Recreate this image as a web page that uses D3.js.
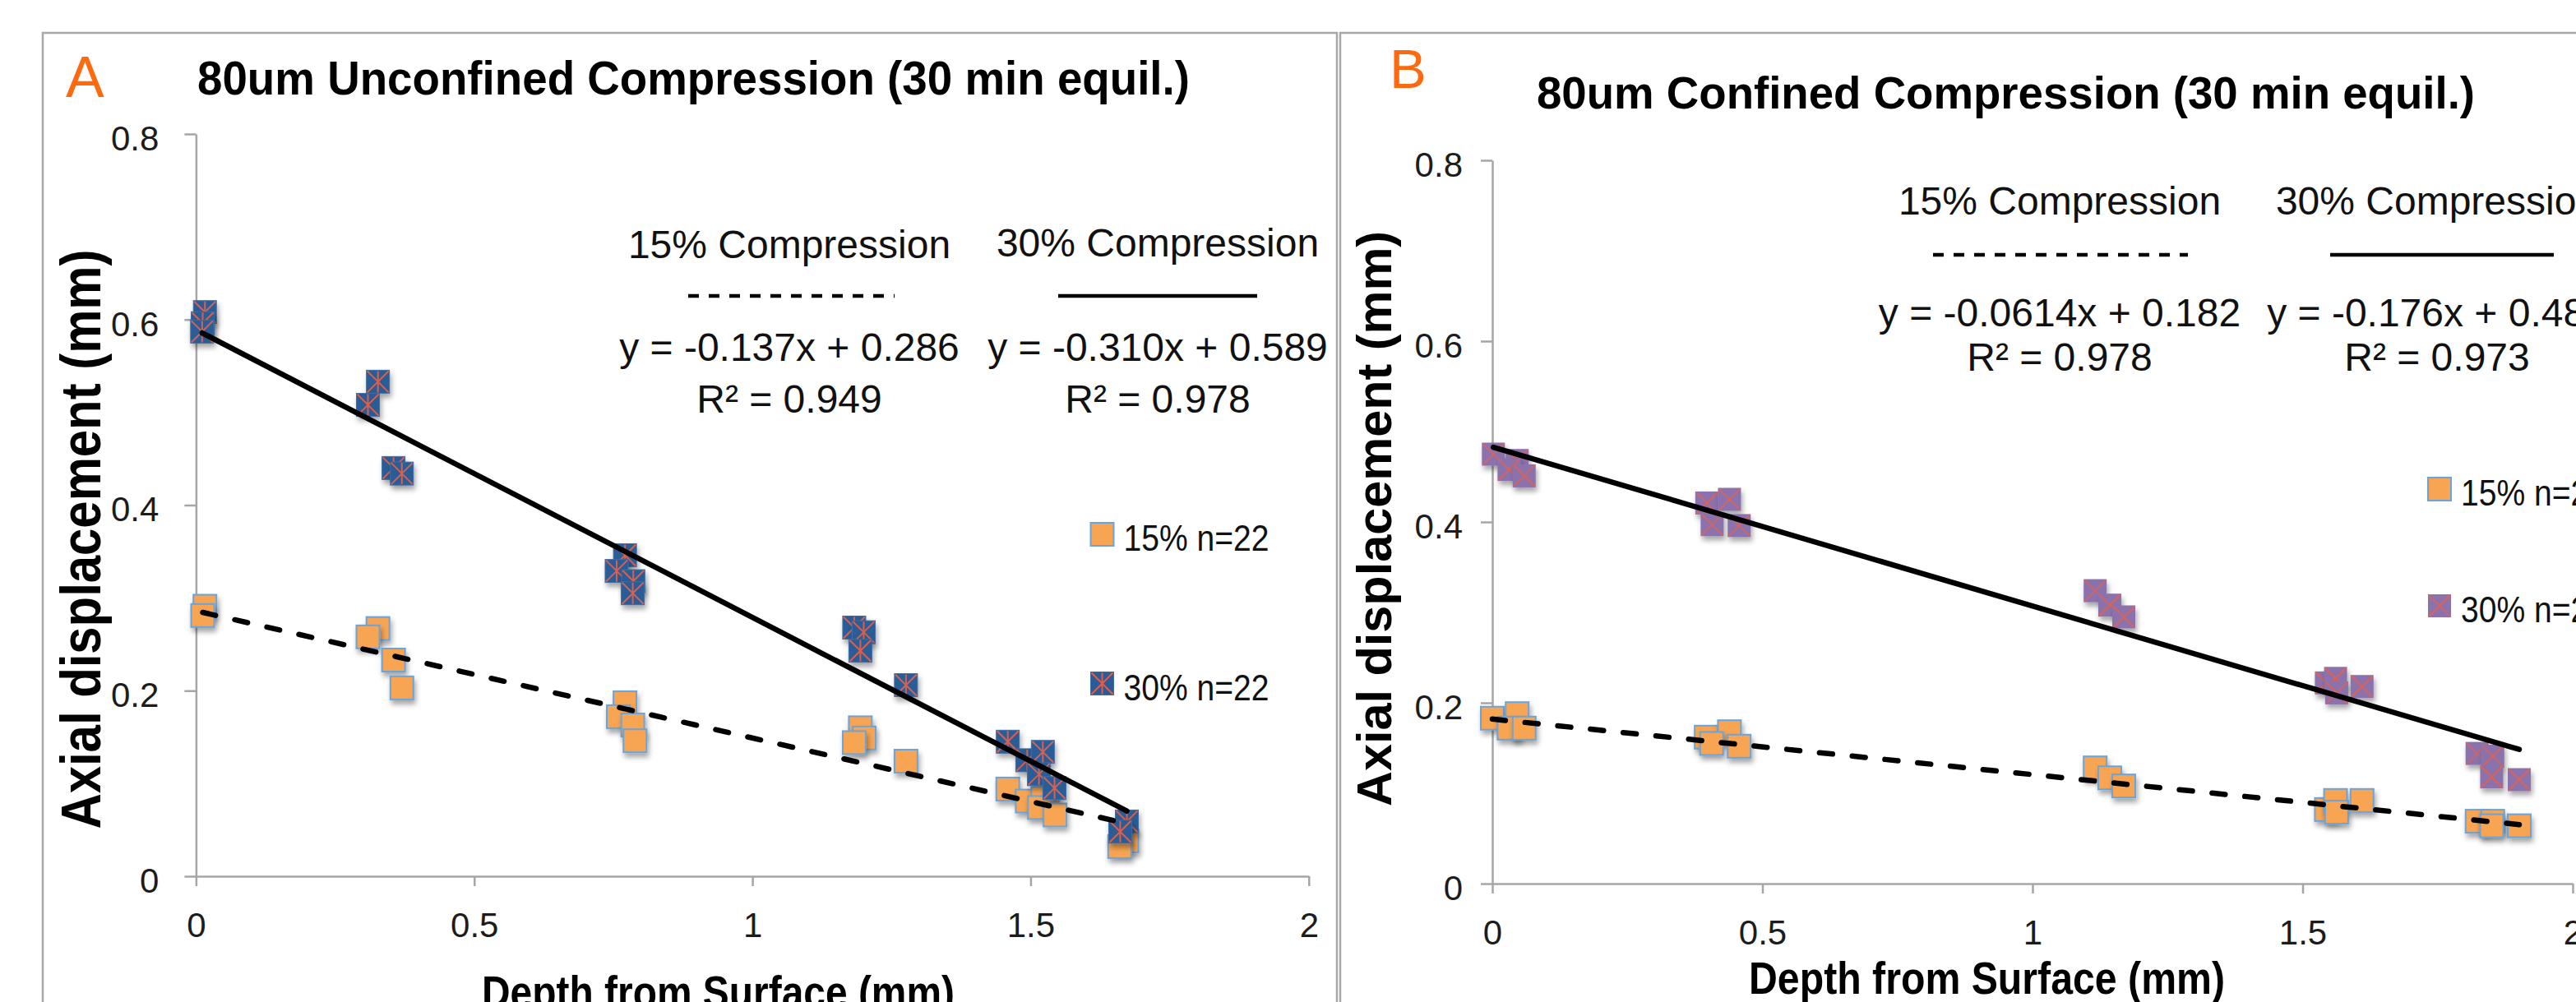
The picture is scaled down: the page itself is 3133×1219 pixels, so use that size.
<!DOCTYPE html>
<html>
<head>
<meta charset="utf-8">
<script src="https://cdn.jsdelivr.net/npm/d3@7"></script>
<style>
body{margin:0;background:#fff;overflow:hidden}
text{font-family:"Liberation Sans",Arial,Helvetica,sans-serif}
</style>
</head>
<body>
<svg id="chart"></svg>
<script>
// axis ticks shared by both panels
const xTicks = [0, 0.5, 1, 1.5, 2]
const yTicks = [0, 0.2, 0.4, 0.6, 0.8]

// panel A : unconfined, [depth mm, axial displacement mm]
const unconf15 = [
    [0.016,0.291],[0.012,0.281],[0.327,0.267],[0.309,0.258],[0.355,0.233],[0.370,0.203],
    [0.771,0.187],[0.759,0.172],[0.785,0.163],[0.789,0.146],
    [1.194,0.160],[1.201,0.149],[1.183,0.144],[1.276,0.124],
    [1.459,0.094],[1.494,0.081],[1.530,0.090],[1.522,0.084],[1.516,0.074],[1.544,0.066],
    [1.673,0.038],[1.660,0.032]
]
const unconf30 = [
    [0.016,0.608],[0.012,0.596],[0.011,0.587],[0.327,0.533],[0.309,0.508],[0.355,0.440],[0.370,0.434],
    [0.771,0.346],[0.756,0.329],[0.786,0.318],[0.785,0.305],
    [1.183,0.268],[1.200,0.263],[1.194,0.243],[1.276,0.206],
    [1.459,0.145],[1.494,0.125],[1.522,0.134],[1.515,0.110],[1.543,0.095],
    [1.673,0.059],[1.661,0.048]
]

// panel B : confined
const conf15 = [
    [0.000,0.183],[0.046,0.188],[0.031,0.172],[0.059,0.172],
    [0.396,0.162],[0.439,0.168],[0.406,0.155],[0.457,0.152],
    [1.116,0.128],[1.143,0.117],[1.169,0.108],
    [1.544,0.082],[1.561,0.092],[1.563,0.079],[1.610,0.092],
    [1.823,0.069],[1.852,0.069],[1.850,0.064],[1.901,0.064]
]
const conf30 = [
    [0.002,0.475],[0.046,0.468],[0.031,0.458],[0.059,0.451],
    [0.397,0.421],[0.439,0.425],[0.407,0.397],[0.457,0.396],
    [1.116,0.324],[1.143,0.308],[1.169,0.295],
    [1.544,0.222],[1.561,0.227],[1.563,0.211],[1.610,0.218],
    [1.823,0.144],[1.852,0.141],[1.850,0.118],[1.901,0.115]
]

// linear fits [slope, intercept] and their labels
const fitA = [[-0.137, 0.286], [-0.310, 0.589]]
const fitB = [[-0.0614, 0.182], [-0.176, 0.483]]
const eqA = ['y = -0.137x + 0.286', 'y = -0.310x + 0.589']
const eqB = ['y = -0.0614x + 0.182', 'y = -0.176x + 0.483']
const r2A = ['R² = 0.949', 'R² = 0.978']
const r2B = ['R² = 0.978', 'R² = 0.973']
const seriesNames = ['15% Compression', '30% Compression']
const legendA = ['15% n=22', '30% n=22']
const legendB = ['15% n=20', '30% n=20']

const W = 3133, H = 1219
const font = '"Liberation Sans",Arial,Helvetica,sans-serif'

let svg = d3.select('#chart').attr('width', W).attr('height', H)

let defs = svg.append('defs')
let shadow = defs.append('filter').attr('id', 'shadow')
    .attr('x', '-60%').attr('y', '-60%').attr('width', '220%').attr('height', '220%')
shadow.append('feDropShadow')
    .attr('dx', 2).attr('dy', 5).attr('stdDeviation', 3)
    .attr('flood-color', '#000').attr('flood-opacity', 0.35)

// marker painters
function orangeMark(g){
    g.append('rect').attr('x', -14).attr('y', -14).attr('width', 28).attr('height', 28)
        .attr('fill', '#F8A553').attr('stroke', '#6CA3D8').attr('stroke-width', 2)
}
function starMark(g){
    g.append('rect').attr('x', -14).attr('y', -14).attr('width', 28).attr('height', 28)
        .attr('fill', '#2C5B95').attr('stroke', '#3F6DA6').attr('stroke-width', 1)
    let s = 13
    g.append('path').attr('d', `M${-s},${-s}L${s},${s}M${s},${-s}L${-s},${s}M0,${-s}L0,${s}`)
        .attr('stroke', '#D9604F').attr('stroke-width', 2).attr('fill', 'none')
}
function crossMark(g){
    g.append('rect').attr('x', -14).attr('y', -14).attr('width', 28).attr('height', 28)
        .attr('fill', '#8B72AD')
    let s = 13
    g.append('path').attr('d', `M${-s},${-s}L${s},${s}M${s},${-s}L${-s},${s}`)
        .attr('stroke', '#D7645C').attr('stroke-width', 2).attr('fill', 'none')
}

function drawPanel(p){

    let g = svg.append('g')

    // panel frame
    g.append('rect')
        .attr('x', p.frame[0]).attr('y', 40)
        .attr('width', p.frame[1] - p.frame[0]).attr('height', 1400)
        .attr('fill', 'none').attr('stroke', '#A8A8A8').attr('stroke-width', 2.5)

    g.append('text')
        .attr('x', p.letter[0]).attr('y', p.letter[1])
        .attr('font-size', p.letter[2]).attr('fill', '#FF6A10')
        .text(p.letterText)

    g.append('text')
        .attr('x', p.title[0]).attr('y', p.title[1])
        .attr('font-size', p.title[2]).attr('font-weight', 'bold')
        .attr('textLength', p.title[3]).attr('lengthAdjust', 'spacingAndGlyphs')
        .text(p.titleText)

    let x = d3.scaleLinear().domain([0, 2]).range(p.xRange)
    let y = d3.scaleLinear().domain([0, 0.8]).range(p.yRange)
    let fmt = d => String(+d.toFixed(2))

    let yAxis = g.append('g')
        .attr('transform', `translate(${p.xRange[0]},0)`)
        .call(d3.axisLeft(y).tickValues(yTicks).tickSize(14).tickPadding(p.yPad).tickSizeOuter(0).tickFormat(fmt))
    let xAxis = g.append('g')
        .attr('transform', `translate(0,${p.yRange[0]})`)
        .call(d3.axisBottom(x).tickValues(xTicks).tickSize(12).tickPadding(32).tickSizeOuter(0).tickFormat(fmt))

    ;[yAxis, xAxis].forEach(function(a){
        a.select('.domain').attr('stroke', '#A6A6A6').attr('stroke-width', 2.5)
        a.selectAll('.tick line').attr('stroke', '#A6A6A6').attr('stroke-width', 2.5)
        a.selectAll('.tick text').attr('font-size', 42).attr('fill', '#1c1c1c').attr('font-family', font)
    })
    yAxis.selectAll('.tick text').attr('y', 6)

    // points
    let pts = g.append('g')
    pts.selectAll('.p15')
        .data(p.s15)
        .enter()
        .append('g')
        .attr('transform', d => `translate(${x(d[0])},${y(d[1])})`)
        .attr('filter', 'url(#shadow)')
        .each(function(){ orangeMark(d3.select(this)) })
    pts.selectAll('.p30')
        .data(p.s30)
        .enter()
        .append('g')
        .attr('transform', d => `translate(${x(d[0])},${y(d[1])})`)
        .attr('filter', 'url(#shadow)')
        .each(function(){ p.mark30(d3.select(this)) })

    // trend lines over the data range
    let series = [p.s15, p.s30]
    p.fit.forEach(function(f, i){
        let ext = d3.extent(series[i], d => d[0])
        g.append('line')
            .attr('x1', x(ext[0])).attr('x2', x(ext[1]))
            .attr('y1', y(f[0] * ext[0] + f[1])).attr('y2', y(f[0] * ext[1] + f[1]))
            .attr('stroke', '#000').attr('stroke-width', 6.5)
            .attr('stroke-linecap', 'round')
            .attr('stroke-dasharray', i === 0 ? '16 24' : null)
    })

    // equation block
    let eq = g.append('g').attr('font-size', 48).attr('text-anchor', 'middle').attr('fill', '#111')
    p.eqX.forEach(function(cx, i){
        eq.append('text').attr('x', cx).attr('y', p.eqY[0] + (i === 1 ? p.eqShift : 0)).text(seriesNames[i])
        eq.append('line')
            .attr('x1', p.keyLines[i][0]).attr('x2', p.keyLines[i][1])
            .attr('y1', p.eqY[1]).attr('y2', p.eqY[1])
            .attr('stroke', '#000').attr('stroke-width', 4.5)
            .attr('stroke-dasharray', i === 0 ? '13 12' : null)
        eq.append('text').attr('x', cx).attr('y', p.eqY[2]).text(p.eq[i])
        eq.append('text').attr('x', cx).attr('y', p.eqY[3]).text(p.r2[i])
    })

    // legend
    let painters = [orangeMark, p.mark30]
    p.legend.forEach(function(name, i){
        let lg = g.append('g').attr('transform', `translate(${p.legPos[0]},${p.legPos[1][i]})`)
        painters[i](lg)
        lg.append('text')
            .attr('x', 26).attr('y', 20)
            .attr('font-size', 44).attr('fill', '#111')
            .attr('textLength', 177).attr('lengthAdjust', 'spacingAndGlyphs')
            .text(name)
    })

    // axis titles
    g.append('text')
        .attr('x', p.xLab[0]).attr('y', p.xLab[1])
        .attr('text-anchor', 'middle').attr('font-weight', 'bold')
        .attr('font-size', 56)
        .attr('textLength', p.xLab[2]).attr('lengthAdjust', 'spacingAndGlyphs')
        .text('Depth from Surface (mm)')

    g.append('text')
        .attr('transform', `translate(${p.yLab[0]},${p.yLab[1]}) rotate(-90)`)
        .attr('text-anchor', 'middle').attr('font-weight', 'bold')
        .attr('font-size', p.yLab[3])
        .attr('textLength', p.yLab[2]).attr('lengthAdjust', 'spacingAndGlyphs')
        .text('Axial displacement (mm)')
}

drawPanel({
    frame: [52, 1626],
    letterText: 'A', letter: [80, 118, 70],
    titleText: '80um Unconfined Compression (30 min equil.)', title: [240, 115, 58, 1207],
    xRange: [238.4, 1591.8], yRange: [1066, 163], yPad: 31,
    s15: unconf15, s30: unconf30, mark30: starMark,
    fit: fitA, eq: eqA, r2: r2A,
    eqX: [960, 1408], eqY: [314, 360, 439, 502], eqShift: -2,
    keyLines: [[837, 1088], [1287, 1529]],
    legend: legendA, legPos: [1340.5, [650, 831.5]],
    xLab: [873.5, 1226, 575],
    yLab: [122, 656, 705, 68]
})

drawPanel({
    frame: [1630, 3200],
    letterText: 'B', letter: [1690, 107, 67],
    titleText: '80um Confined Compression (30 min equil.)', title: [1869, 132, 55, 1141],
    xRange: [1815, 3129], yRange: [1075, 195], yPad: 22,
    s15: conf15, s30: conf30, mark30: crossMark,
    fit: fitB, eq: eqB, r2: r2B,
    eqX: [2505, 2964], eqY: [261, 310, 397, 451], eqShift: 0,
    keyLines: [[2351, 2661], [2834, 3106]],
    legend: legendB, legPos: [2967, [595, 737]],
    xLab: [2416.5, 1209, 579],
    yLab: [1692, 631, 700, 60]
})
</script>
</body>
</html>
